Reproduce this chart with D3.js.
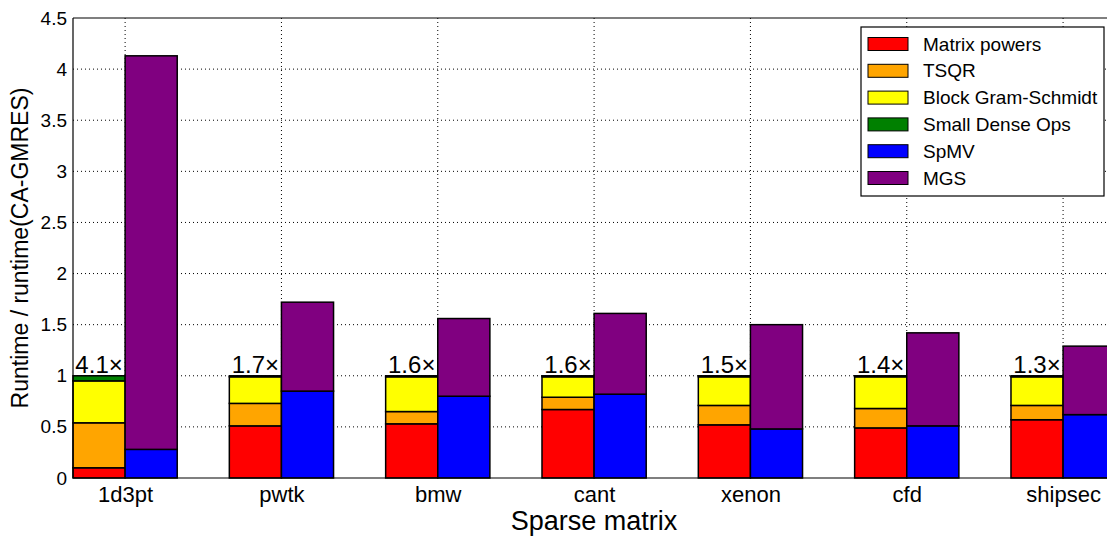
<!DOCTYPE html>
<html>
<head>
<meta charset="utf-8">
<script src="https://cdn.jsdelivr.net/npm/d3@7"></script>
<style>
  html, body { margin: 0; padding: 0; background: #fff; }
  svg { display: block; font-family: "Liberation Sans", Arial, Helvetica, sans-serif; }
</style>
</head>
<body>
<svg id="chart" width="1107" height="539"></svg>
<script>
// Sparse matrices on the x axis
const matrices = ["1d3pt", "pwtk", "bmw", "cant", "xenon", "cfd", "shipsec"];

// CA-GMRES runtime breakdown (normalized to CA-GMRES total)
const matrixPowers   = [0.10, 0.51, 0.53, 0.67, 0.52, 0.49, 0.57];
const tsqr           = [0.44, 0.22, 0.12, 0.12, 0.19, 0.19, 0.14];
const blockGS        = [0.41, 0.26, 0.34, 0.20, 0.28, 0.31, 0.28];
const smallDenseOps  = [0.05, 0.01, 0.01, 0.01, 0.01, 0.01, 0.01];

// Standard GMRES runtime breakdown (same normalization)
const spmv           = [0.28, 0.85, 0.80, 0.82, 0.48, 0.51, 0.62];
const mgs            = [3.85, 0.87, 0.76, 0.79, 1.02, 0.91, 0.67];

// Speedup labels over each group
const speedupLabels  = ["4.1\u00d7", "1.7\u00d7", "1.6\u00d7", "1.6\u00d7", "1.5\u00d7", "1.4\u00d7", "1.3\u00d7"];

const yTicks = [0, 0.5, 1, 1.5, 2, 2.5, 3, 3.5, 4, 4.5];

const seriesNames  = ["Matrix powers", "TSQR", "Block Gram-Schmidt", "Small Dense Ops", "SpMV", "MGS"];
const seriesColors = ["#ff0000", "#ffa500", "#ffff00", "#008000", "#0000ff", "#800080"];

const svg = d3.select("#chart");
const plot = { left: 73, top: 18, bottom: 478 };
const spacing = 156.33;
const barW = spacing / 3;

const x = d3.scaleLinear().domain([0, matrices.length - 1])
  .range([plot.left + barW, plot.left + barW + spacing * (matrices.length - 1)]);
const plotRight = x(matrices.length - 1) + barW;
const y = d3.scaleLinear().domain([0, 4.5]).range([plot.bottom, plot.top]);

// Dotted grid
const grid = svg.append("g").attr("stroke", "#000").attr("stroke-width", 1)
  .attr("stroke-dasharray", "1,3");
yTicks.filter(t => t > 0 && t < 4.5).forEach(t => {
  grid.append("line").attr("x1", plot.left).attr("x2", plotRight)
    .attr("y1", y(t)).attr("y2", y(t));
});
matrices.forEach((m, i) => {
  grid.append("line").attr("x1", x(i)).attr("x2", x(i))
    .attr("y1", plot.top).attr("y2", plot.bottom);
});

// Stacked bars
const leftStack = d3.stack().keys([0, 1, 2, 3])
  .value((d, k) => d[k])(matrices.map((m, i) => [matrixPowers[i], tsqr[i], blockGS[i], smallDenseOps[i]]));
const rightStack = d3.stack().keys([0, 1])
  .value((d, k) => d[k])(matrices.map((m, i) => [spmv[i], mgs[i]]));

const bars = svg.append("g").attr("stroke", "#000").attr("stroke-width", 1.5);
leftStack.forEach((layer, li) => {
  layer.forEach((seg, i) => {
    bars.append("rect")
      .attr("x", x(i) - barW).attr("width", barW)
      .attr("y", y(seg[1])).attr("height", y(seg[0]) - y(seg[1]))
      .attr("fill", seriesColors[li]);
  });
});
rightStack.forEach((layer, li) => {
  layer.forEach((seg, i) => {
    bars.append("rect")
      .attr("x", x(i)).attr("width", barW)
      .attr("y", y(seg[1])).attr("height", y(seg[0]) - y(seg[1]))
      .attr("fill", seriesColors[4 + li]);
  });
});

// Speedup labels
matrices.forEach((m, i) => {
  const top = matrixPowers[i] + tsqr[i] + blockGS[i] + smallDenseOps[i];
  svg.append("text")
    .attr("x", x(i) - barW / 2).attr("y", y(top) - 3)
    .attr("text-anchor", "middle").attr("font-size", 24).attr("fill", "#000")
    .text(speedupLabels[i]);
});

// Axes frame
svg.append("line").attr("x1", plot.left).attr("x2", plotRight)
  .attr("y1", plot.top).attr("y2", plot.top).attr("stroke", "#000").attr("stroke-width", 1.2);
svg.append("line").attr("x1", plot.left).attr("x2", plotRight)
  .attr("y1", plot.bottom).attr("y2", plot.bottom).attr("stroke", "#000").attr("stroke-width", 1.2);
svg.append("line").attr("x1", plot.left).attr("x2", plot.left)
  .attr("y1", plot.top).attr("y2", plot.bottom).attr("stroke", "#000").attr("stroke-width", 1.2);

// Y tick labels
const yAxis = d3.axisLeft(y).tickValues(yTicks).tickSize(0).tickPadding(6)
  .tickFormat(d => d3.format("")(d));
const yg = svg.append("g").attr("transform", `translate(${plot.left},0)`).call(yAxis);
yg.select(".domain").remove();
yg.selectAll("text").attr("font-size", 19).attr("font-family", "Liberation Sans, Arial, sans-serif").attr("fill", "#000");

// X tick labels
const xg = svg.append("g").attr("transform", `translate(0,${plot.bottom})`)
  .call(d3.axisBottom(x).tickValues(d3.range(matrices.length)).tickSize(0).tickPadding(8)
    .tickFormat(i => matrices[i]));
xg.select(".domain").remove();
xg.selectAll("text").attr("font-size", 22).attr("font-family", "Liberation Sans, Arial, sans-serif").attr("fill", "#000");

// Axis titles
svg.append("text").attr("x", x(3)).attr("y", 530)
  .attr("text-anchor", "middle").attr("font-size", 27).text("Sparse matrix");
svg.append("text")
  .attr("transform", `translate(28,${(plot.top + plot.bottom) / 2}) rotate(-90)`)
  .attr("text-anchor", "middle").attr("font-size", 23).text("Runtime / runtime(CA-GMRES)");

// Legend
const lg = svg.append("g").attr("transform", "translate(861,27)");
lg.append("rect").attr("width", 243).attr("height", 169)
  .attr("fill", "#fff").attr("stroke", "#000").attr("stroke-width", 1.2);
seriesNames.forEach((name, k) => {
  const cy = 17 + k * 26.8;
  lg.append("rect").attr("x", 7).attr("y", cy - 6.5).attr("width", 40).attr("height", 13)
    .attr("fill", seriesColors[k]).attr("stroke", "#000").attr("stroke-width", 1);
  lg.append("text").attr("x", 62).attr("y", cy).attr("dy", "0.35em")
    .attr("font-size", 19).text(name);
});
</script>
</body>
</html>
